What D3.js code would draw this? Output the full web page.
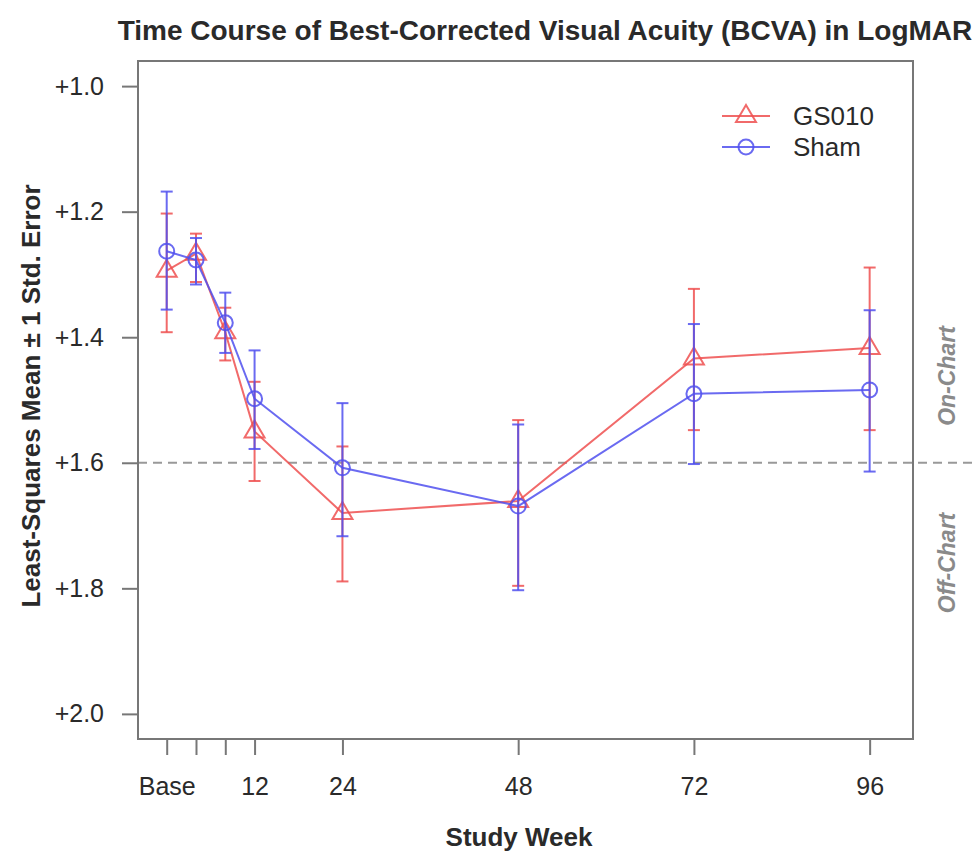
<!DOCTYPE html>
<html>
<head>
<meta charset="utf-8">
<script src="https://cdn.jsdelivr.net/npm/d3@7"></script>
<style>
  html, body { margin: 0; padding: 0; background: #fff; }
  svg { display: block; font-family: "Liberation Sans", Arial, Helvetica, sans-serif; }
</style>
</head>
<body>
<svg id="chart" width="973" height="851"></svg>
<script>
// ---- data ----
const weeks = [0, 4, 8, 12, 24, 48, 72, 96];
const weekLabels = ["Base", "", "", "12", "24", "48", "72", "96"];
const gsMean = [1.294, 1.267, 1.392, 1.550, 1.680, 1.661, 1.434, 1.417];
const gsLow  = [1.203, 1.235, 1.353, 1.471, 1.574, 1.532, 1.323, 1.289];
const gsHigh = [1.392, 1.312, 1.437, 1.629, 1.789, 1.796, 1.548, 1.548];
const shamMean = [1.263, 1.277, 1.377, 1.498, 1.608, 1.669, 1.490, 1.484];
const shamLow  = [1.168, 1.242, 1.329, 1.421, 1.505, 1.539, 1.379, 1.357];
const shamHigh = [1.356, 1.316, 1.425, 1.578, 1.717, 1.803, 1.602, 1.614];
const yTicks = [1.0, 1.2, 1.4, 1.6, 1.8, 2.0];
const yTickLabels = ["+1.0", "+1.2", "+1.4", "+1.6", "+1.8", "+2.0"];
const threshold = 1.6;
const seriesNames = ["GS010", "Sham"];

// ---- layout ----
const svg = d3.select("#chart");
const L = 138, R = 913, T = 61, B = 739;
const x = d3.scaleLinear().domain([-3.92, 101.92]).range([L, R]);
const y = d3.scaleLinear().domain([0.96, 2.04]).range([T, B]);

const red = "rgba(238,80,80,0.85)";
const blue = "rgba(80,80,238,0.85)";
const axisCol = "#777";
const textCol = "#2a2a2a";

// title
svg.append("text").attr("x", 545).attr("y", 40).attr("text-anchor", "middle")
  .attr("font-size", 28).attr("font-weight", "bold").attr("fill", textCol)
  .text("Time Course of Best-Corrected Visual Acuity (BCVA) in LogMAR");

// axes
const yAxis = d3.axisLeft(y).tickValues(yTicks).tickSize(16).tickPadding(18)
  .tickFormat((d, i) => yTickLabels[i]);
const gy = svg.append("g").attr("transform", `translate(${L},0)`).call(yAxis);
gy.select(".domain").remove();
gy.selectAll("line").attr("stroke", axisCol).attr("stroke-width", 2);
gy.selectAll("text").attr("font-size", 25).attr("fill", textCol).attr("font-family", "Liberation Sans, Arial, sans-serif");

const xAxis = d3.axisBottom(x).tickValues(weeks).tickSize(16).tickPadding(22)
  .tickFormat((d, i) => weekLabels[i]);
const gx = svg.append("g").attr("transform", `translate(0,${B})`).call(xAxis);
gx.select(".domain").remove();
gx.selectAll("line").attr("stroke", axisCol).attr("stroke-width", 2);
gx.selectAll("text").attr("font-size", 25).attr("fill", textCol).attr("font-family", "Liberation Sans, Arial, sans-serif");

// axis titles
svg.append("text").attr("x", 519).attr("y", 846).attr("text-anchor", "middle")
  .attr("font-size", 26).attr("font-weight", "bold").attr("fill", textCol).text("Study Week");
svg.append("text").attr("transform", "translate(40,396) rotate(-90)").attr("text-anchor", "middle")
  .attr("font-size", 26).attr("font-weight", "bold").attr("fill", textCol)
  .text("Least-Squares Mean \u00B1 1 Std. Error");

// threshold dashed line
svg.append("line").attr("x1", L).attr("x2", 973).attr("y1", y(threshold)).attr("y2", y(threshold))
  .attr("stroke", "#999").attr("stroke-width", 2).attr("stroke-dasharray", "9,6");

// on/off chart labels
svg.append("text").attr("transform", "translate(955,376) rotate(-90)")
  .attr("text-anchor", "middle").attr("font-size", 23).attr("font-weight", "bold").attr("font-style", "italic")
  .attr("fill", "#8a8a8a").text("On-Chart");
svg.append("text").attr("transform", "translate(955,563) rotate(-90)")
  .attr("text-anchor", "middle").attr("font-size", 23).attr("font-weight", "bold").attr("font-style", "italic")
  .attr("fill", "#8a8a8a").text("Off-Chart");

// series
function drawSeries(mean, lo, hi, color, marker) {
  const g = svg.append("g");
  const pts = weeks.map((w, i) => ({ w, m: mean[i], lo: lo[i], hi: hi[i] }));
  pts.forEach(p => {
    g.append("line").attr("x1", x(p.w)).attr("x2", x(p.w)).attr("y1", y(p.lo)).attr("y2", y(p.hi))
      .attr("stroke", color).attr("stroke-width", 2);
    [p.lo, p.hi].forEach(v => {
      g.append("line").attr("x1", x(p.w) - 6).attr("x2", x(p.w) + 6).attr("y1", y(v)).attr("y2", y(v))
        .attr("stroke", color).attr("stroke-width", 2);
    });
  });
  g.append("path").datum(pts)
    .attr("d", d3.line().x(p => x(p.w)).y(p => y(p.m)))
    .attr("fill", "none").attr("stroke", color).attr("stroke-width", 2);
  pts.forEach(p => drawMarker(g, x(p.w), y(p.m), color, marker));
}
function drawMarker(g, cx, cy, color, marker) {
  if (marker === "tri") {
    g.append("path").attr("d", `M${cx},${cy - 11}L${cx + 10},${cy + 6}L${cx - 10},${cy + 6}Z`)
      .attr("fill", "none").attr("stroke", color).attr("stroke-width", 2);
  } else {
    g.append("circle").attr("cx", cx).attr("cy", cy).attr("r", 7.5)
      .attr("fill", "none").attr("stroke", color).attr("stroke-width", 2);
  }
}
drawSeries(gsMean, gsLow, gsHigh, red, "tri");
drawSeries(shamMean, shamLow, shamHigh, blue, "circ");

// box
svg.append("rect").attr("x", L).attr("y", T).attr("width", R - L).attr("height", B - T)
  .attr("fill", "none").attr("stroke", axisCol).attr("stroke-width", 2);

// legend
const legend = [{ name: seriesNames[0], color: red, marker: "tri", y: 116 },
                { name: seriesNames[1], color: blue, marker: "circ", y: 147 }];
legend.forEach(d => {
  const g = svg.append("g");
  g.append("line").attr("x1", 722).attr("x2", 770).attr("y1", d.y).attr("y2", d.y)
    .attr("stroke", d.color).attr("stroke-width", 2);
  drawMarker(g, 746, d.y, d.color, d.marker);
  g.append("text").attr("x", 793).attr("y", d.y + 9).attr("font-size", 26).attr("fill", textCol).text(d.name);
});
</script>
</body>
</html>
